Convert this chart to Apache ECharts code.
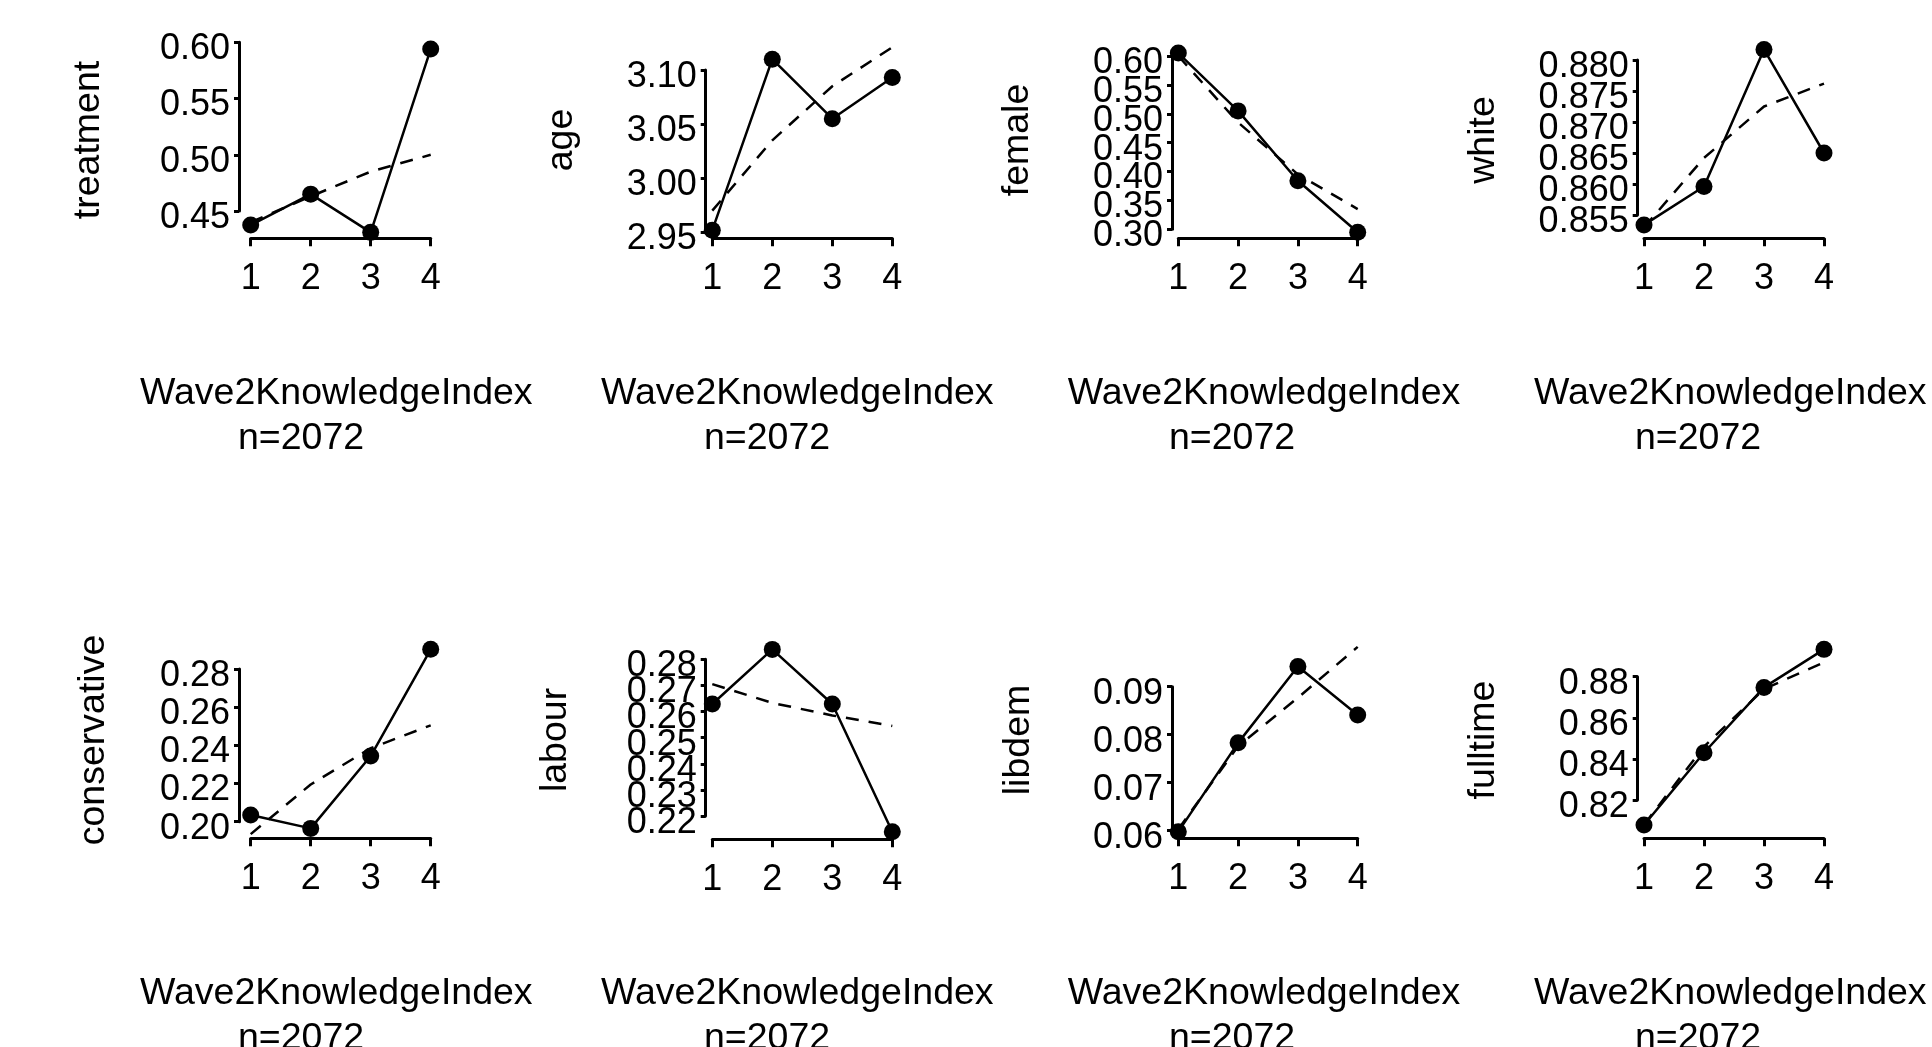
<!DOCTYPE html>
<html>
<head>
<meta charset="utf-8">
<script src="https://cdn.jsdelivr.net/npm/echarts@6/dist/echarts.min.js"></script>
<style>
html,body{margin:0;padding:0;background:#fff;}
#chart{width:1932px;height:1047px;}
</style>
</head>
<body>
<div id="chart"></div>
<script>
// ---- data ----
const categories = [1, 2, 3, 4];
const xTickLabels = ['1', '2', '3', '4'];
const xLabel = 'Wave2KnowledgeIndex';
const nLabel = 'n=2072';

const variableNames = ['treatment', 'age', 'female', 'white', 'conservative', 'labour', 'libdem', 'fulltime'];

const treatmentMean = [0.4375, 0.465, 0.431, 0.594];
const treatmentSmooth = [0.440, 0.463, 0.485, 0.500];
const treatmentTicks = ['0.45', '0.50', '0.55', '0.60'];

const ageMean = [2.952, 3.110, 3.055, 3.093];
const ageSmooth = [2.970, 3.035, 3.085, 3.121];
const ageTicks = ['2.95', '3.00', '3.05', '3.10'];

const femaleMean = [0.605, 0.505, 0.384, 0.295];
const femaleSmooth = [0.600, 0.485, 0.395, 0.335];
const femaleTicks = ['0.30', '0.35', '0.40', '0.45', '0.50', '0.55', '0.60'];

const whiteMean = [0.8534, 0.8596, 0.8817, 0.8650];
const whiteSmooth = [0.8530, 0.8642, 0.8725, 0.8762];
const whiteTicks = ['0.855', '0.860', '0.865', '0.870', '0.875', '0.880'];

const conservativeMean = [0.2035, 0.1965, 0.2344, 0.2903];
const conservativeSmooth = [0.1935, 0.2195, 0.2385, 0.2505];
const conservativeTicks = ['0.20', '0.22', '0.24', '0.26', '0.28'];

const labourMean = [0.2629, 0.2838, 0.2629, 0.2140];
const labourSmooth = [0.2705, 0.2633, 0.2585, 0.2545];
const labourTicks = ['0.22', '0.23', '0.24', '0.25', '0.26', '0.27', '0.28'];

const libdemMean = [0.0598, 0.0783, 0.0942, 0.0841];
const libdemSmooth = [0.0603, 0.0776, 0.0877, 0.0983];
const libdemTicks = ['0.06', '0.07', '0.08', '0.09'];

const fulltimeMean = [0.8078, 0.8430, 0.8748, 0.8933];
const fulltimeSmooth = [0.808, 0.846, 0.874, 0.887];
const fulltimeTicks = ['0.82', '0.84', '0.86', '0.88'];

const meansList = [treatmentMean, ageMean, femaleMean, whiteMean, conservativeMean, labourMean, libdemMean, fulltimeMean];
const smoothList = [treatmentSmooth, ageSmooth, femaleSmooth, whiteSmooth, conservativeSmooth, labourSmooth, libdemSmooth, fulltimeSmooth];
const ticksList = [treatmentTicks, ageTicks, femaleTicks, whiteTicks, conservativeTicks, labourTicks, libdemTicks, fulltimeTicks];

// ---- layout (pixel positions of each panel) ----
const layout = [
  {left: 250.7, top: 42.3, w: 180, h: 168.7, xOff: 27.3, yOff: 11.7, nameX: 88.3, waveX: 140, nX: 301, row: 0},
  {left: 712.3, top: 70, w: 180, h: 162.3, xOff: 6, yOff: 6.6, nameX: 562, waveX: 601, nX: 767, row: 0},
  {left: 1178.3, top: 56, w: 179.4, h: 173.3, xOff: 9, yOff: 6.3, nameX: 1017.7, waveX: 1067.7, nX: 1232, row: 0},
  {left: 1644, top: 60, w: 180, h: 155, xOff: 23.3, yOff: 6.3, nameX: 1484, waveX: 1534, nX: 1698, row: 0},
  {left: 250.7, top: 669, w: 180, h: 152.7, xOff: 16.6, yOff: 11.7, nameX: 93.3, waveX: 140, nX: 301, row: 1},
  {left: 712.3, top: 659.3, w: 180, h: 156.7, xOff: 23.3, yOff: 6.6, nameX: 555.3, waveX: 601, nX: 767, row: 1},
  {left: 1178.3, top: 686.7, w: 179.4, h: 144, xOff: 7.6, yOff: 6.3, nameX: 1018.7, waveX: 1067.7, nX: 1232, row: 1},
  {left: 1644, top: 676.7, w: 180, h: 123.3, xOff: 38.3, yOff: 6.3, nameX: 1484, waveX: 1534, nX: 1698, row: 1}
];
const rowNameY = [140, 740];
const rowWaveY = [394, 994];
const rowNY = [439, 1039];

const FONT = "'Liberation Sans', Arial, sans-serif";
const FS = 36;
const FS2 = 37.5;

const grids = [], xAxes = [], yAxes = [], series = [], graphics = [];

function labelFor(tickVals, labels) {
  return v => {
    let best = 0, bd = Infinity;
    tickVals.forEach((t, k) => { const d = Math.abs(t - v); if (d < bd) { bd = d; best = k; } });
    return labels[best];
  };
}

variableNames.forEach((name, i) => {
  const L = layout[i];
  const labels = ticksList[i];
  const tickVals = labels.map(Number);
  grids.push({left: L.left, top: L.top, width: L.w, height: L.h, containLabel: false});
  xAxes.push({
    type: 'value', gridIndex: i, min: categories[0], max: categories[categories.length - 1],
    offset: L.xOff,
    axisLine: {show: true, onZero: false, lineStyle: {color: '#000', width: 3}},
    axisTick: {show: true, length: 8, lineStyle: {color: '#000', width: 3}, customValues: categories},
    axisLabel: {show: true, color: '#000', fontSize: FS, fontFamily: FONT, margin: 23,
      showMinLabel: true, showMaxLabel: true, hideOverlap: false,
      customValues: categories,
      formatter: v => xTickLabels[categories.indexOf(Math.round(v))] || ''},
    splitLine: {show: false}
  });
  // two y axes at the same place: one carries the even-indexed labels, the other the odd ones,
  // so that ECharts never drops the densely packed labels.
  const evenVals = tickVals.filter((_, k) => k % 2 === 0);
  const oddVals = tickVals.filter((_, k) => k % 2 === 1);
  [evenVals, oddVals].forEach((vals, part) => {
    yAxes.push({
      type: 'value', gridIndex: i, position: 'left',
      min: tickVals[0], max: tickVals[tickVals.length - 1],
      offset: L.yOff,
      axisLine: {show: part === 0, onZero: false, lineStyle: {color: '#000', width: 3}},
      axisTick: {show: part === 0, length: 5, lineStyle: {color: '#000', width: 3}, customValues: tickVals},
      axisLabel: {show: true, color: '#000', fontSize: FS, fontFamily: FONT, margin: 9,
        showMinLabel: true, showMaxLabel: true, hideOverlap: false,
        verticalAlign: 'top', lineHeight: 14,
        customValues: vals,
        formatter: labelFor(tickVals, labels)},
      splitLine: {show: false}
    });
  });
  const yIdx = 2 * i;
  series.push({
    type: 'line', xAxisIndex: i, yAxisIndex: yIdx, clip: false,
    data: categories.map((x, k) => [x, smoothList[i][k]]),
    showSymbol: false, symbol: 'none',
    lineStyle: {color: '#000', width: 2.5, type: [13, 10]},
    silent: true, z: 2
  });
  series.push({
    type: 'line', xAxisIndex: i, yAxisIndex: yIdx, clip: false,
    data: categories.map((x, k) => [x, meansList[i][k]]),
    symbol: 'circle', symbolSize: 17, showSymbol: true,
    itemStyle: {color: '#000'},
    lineStyle: {color: '#000', width: 2.5},
    silent: true, z: 3
  });
  graphics.push({
    type: 'text', x: L.nameX, y: rowNameY[L.row], rotation: Math.PI / 2,
    style: {text: name, fill: '#000', font: FS2 + 'px ' + FONT, textAlign: 'center', textVerticalAlign: 'middle'}
  });
  graphics.push({
    type: 'text', x: L.waveX, y: rowWaveY[L.row],
    style: {text: xLabel, fill: '#000', font: FS2 + 'px ' + FONT, textAlign: 'left', textVerticalAlign: 'middle'}
  });
  graphics.push({
    type: 'text', x: L.nX, y: rowNY[L.row],
    style: {text: nLabel, fill: '#000', font: FS2 + 'px ' + FONT, textAlign: 'center', textVerticalAlign: 'middle'}
  });
});

const chart = echarts.init(document.getElementById('chart'), null, {renderer: 'canvas'});
chart.setOption({
  backgroundColor: '#fff',
  animation: false,
  grid: grids,
  xAxis: xAxes,
  yAxis: yAxes,
  series: series,
  graphic: graphics
});
</script>
</body>
</html>
